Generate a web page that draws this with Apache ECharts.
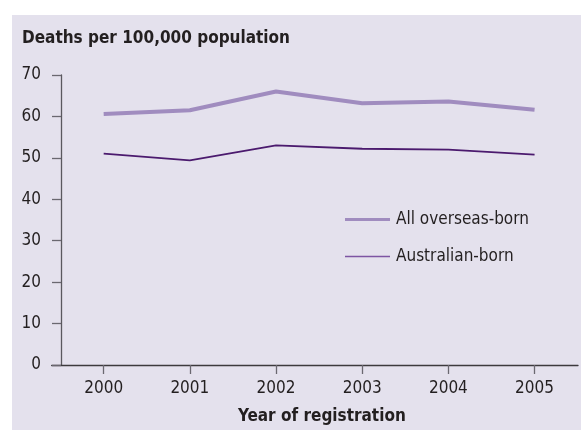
<!DOCTYPE html>
<html>
<head>
<meta charset="utf-8">
<script src="https://cdn.jsdelivr.net/npm/echarts@6/dist/echarts.min.js"></script>
<style>
  html, body { margin: 0; padding: 0; background: #ffffff; }
  #chart { width: 581px; height: 430px; }
</style>
</head>
<body>
<div id="chart"></div>
<script>
// Registration years and death rates per 100,000 population
var years = [2000, 2001, 2002, 2003, 2004, 2005];
var overseasBorn = [60.6, 61.5, 66.0, 63.2, 63.6, 61.6];
var australianBorn = [51.0, 49.4, 53.0, 52.2, 52.0, 50.8];
var yTicks = [0, 10, 20, 30, 40, 50, 60, 70];

var FONT = "'DejaVu Sans Condensed', 'Liberation Sans Narrow', sans-serif";
var INK = '#231f20';
var SIZE = 17;

function pairs(values) {
  return years.map(function (y, i) { return [y, values[i]]; });
}

var chart = echarts.init(document.getElementById('chart'), null, { renderer: 'canvas' });

chart.setOption({
  animation: false,
  textStyle: { fontFamily: FONT, color: INK },
  graphic: [{
    type: 'rect',
    z: -10,
    silent: true,
    shape: { x: 12, y: 15, width: 569, height: 415 },
    style: { fill: '#e4e1ed' }
  }],
  title: {
    text: 'Deaths per 100,000 population',
    left: 22,
    top: 30,
    padding: 0,
    textStyle: { fontFamily: FONT, fontSize: 17, fontWeight: 'bold', color: INK }
  },
  legend: {
    orient: 'vertical',
    left: 340,
    top: 206,
    itemWidth: 45,
    itemHeight: 14,
    itemGap: 20,
    itemStyle: { opacity: 0 },
    textStyle: { fontFamily: FONT, fontSize: SIZE, color: INK, padding: [0, 0, 0, 1] },
    data: [
      { name: 'All overseas-born', icon: 'path://M0,6 L45,6 L45,9 L0,9 Z', itemStyle: { color: '#a08cbf', opacity: 1 } },
      { name: 'Australian-born', icon: 'path://M0,6.5 L45,6.5 L45,8 L0,8 Z', itemStyle: { color: '#7d55a3', opacity: 1 } }
    ]
  },
  grid: { left: 51.7, right: 3, top: 75, bottom: 64.5 },
  xAxis: {
    type: 'value',
    min: 1999.397,
    max: 2005.504,
    name: 'Year of registration',
    nameLocation: 'middle',
    nameGap: 43,
    nameTextStyle: { fontFamily: FONT, fontSize: 17, fontWeight: 'bold', color: INK, padding: [0, 0, 0, 14] },
    splitLine: { show: false },
    axisLine: { show: true, lineStyle: { color: '#3c3a3d', width: 1.3 } },
    axisTick: { show: true, length: 9, customValues: years, lineStyle: { color: '#6a6870', width: 1.3 } },
    axisLabel: {
      customValues: years,
      margin: 15,
      fontFamily: FONT,
      fontSize: SIZE,
      color: INK,
      formatter: function (v) { return String(Math.round(v)); }
    }
  },
  yAxis: {
    type: 'value',
    min: 0,
    max: 70,
    interval: 10,
    offset: -9.3,
    splitLine: { show: false },
    axisLine: { show: true, lineStyle: { color: '#5a585e', width: 1.3 } },
    axisTick: { show: true, length: 9, customValues: yTicks, lineStyle: { color: '#6a6870', width: 1.3 } },
    axisLabel: { margin: 20, fontFamily: FONT, fontSize: SIZE, color: INK }
  },
  series: [
    {
      name: 'All overseas-born',
      type: 'line',
      data: pairs(overseasBorn),
      showSymbol: false,
      symbol: 'none',
      lineStyle: { color: '#a08cbf', width: 4 },
      itemStyle: { color: '#a08cbf' },
      z: 3
    },
    {
      name: 'Australian-born',
      type: 'line',
      data: pairs(australianBorn),
      showSymbol: false,
      symbol: 'none',
      lineStyle: { color: '#4b1a6e', width: 1.8 },
      itemStyle: { color: '#4b1a6e' },
      z: 3
    }
  ]
});
</script>
</body>
</html>
